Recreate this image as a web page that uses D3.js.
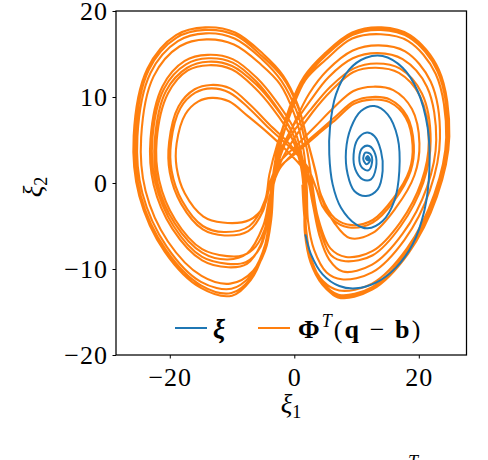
<!DOCTYPE html>
<html><head><meta charset="utf-8">
<script src="https://cdn.jsdelivr.net/npm/d3@7"></script>
<style>body{margin:0;background:#fff} svg{display:block}</style>
</head><body>
<svg id="c" width="488" height="460"></svg>
<script>
// ---- tick values / labels ----
const xTicks = [-20, 0, 20];
const xTickLabels = ["\u221220", "0", "20"];
const yTicks = [-20, -10, 0, 10, 20];
const yTickLabels = ["\u221220", "\u221210", "0", "10", "20"];

// ---- orange trajectory, in (xi1, xi2), piece by piece ----
// right-lobe loops (bottom -> right -> top -> upper left)
const rA1 = [[7.0,-13.3],[12.5,-12.4],[18.3,-8.2],[22.9,-1.6],[24.9,5.4],[23.2,13.2],[18.6,17.2],[14.0,18.1],[9.3,17.5],[4.8,15.0]];
const rA2 = [[7.0,-13.2],[12.4,-12.3],[18.2,-8.1],[22.8,-1.5],[24.8,5.4],[23.1,13.1],[18.5,17.1],[13.9,18.0],[9.2,17.4],[4.8,14.9]];
const rB = [[7.1,-13.0],[12.5,-12.1],[18.2,-7.9],[22.7,-1.5],[24.7,5.4],[23.0,13.0],[18.5,16.9],[13.9,17.8],[9.3,17.2],[4.9,14.7]];
const rC = [[7.2,-12.5],[12.5,-11.7],[18.1,-7.6],[22.5,-1.3],[24.4,5.3],[22.7,12.7],[18.3,16.5],[13.9,17.3],[9.3,16.8],[5.0,14.3]];
const rD = [[7.6,-11.2],[12.5,-10.4],[17.7,-6.6],[21.8,-0.8],[23.4,5.2],[21.9,11.8],[17.8,15.3],[13.6,16.0],[9.4,15.4],[5.3,13.1]];
const rE = [[7.8,-10.3],[12.5,-9.5],[17.4,-5.9],[21.3,-0.5],[22.8,5.0],[21.3,11.2],[17.4,14.4],[13.4,15.1],[9.4,14.5],[5.5,12.3]];
const rF = [[8.2,-9.1],[12.6,-8.4],[17.1,-5.0],[20.7,0.0],[21.9,4.9],[20.5,10.4],[17.0,13.3],[13.2,13.9],[9.5,13.3],[5.8,11.2]];
const rG = [[8.3,-8.6],[12.6,-7.9],[17.0,-4.6],[20.4,0.1],[21.6,4.8],[20.2,10.1],[16.8,12.8],[13.1,13.4],[9.5,12.9],[5.9,10.7]];
const rH = [[8.9,-6.4],[12.6,-5.8],[16.3,-2.9],[19.3,0.9],[20.1,4.6],[18.9,8.6],[15.9,10.8],[12.7,11.2],[9.5,10.7],[6.4,8.8]];
const rI = [[9.2,-5.2],[12.6,-4.6],[16.0,-2.1],[18.7,1.4],[19.2,4.4],[18.1,7.8],[15.4,9.7],[12.5,10.0],[9.6,9.5],[6.6,7.7]];
const rJ = [[9.3,-4.9],[12.6,-4.3],[15.9,-1.8],[18.5,1.5],[19.0,4.4],[17.9,7.6],[15.3,9.4],[12.4,9.7],[9.6,9.2],[6.7,7.4]];
// left-lobe loops (bottom -> left -> top -> upper right)
const lA1 = [[-10.0,-13.1],[-15.0,-12.2],[-20.8,-8.0],[-24.9,-1.5],[-25.8,5.5],[-23.6,13.3],[-19.0,17.2],[-14.3,18.1],[-9.5,17.5],[-5.0,15.0]];
const lB = [[-10.1,-12.8],[-15.0,-11.9],[-20.7,-7.7],[-24.7,-1.4],[-25.5,5.5],[-23.4,13.1],[-18.9,16.9],[-14.3,17.8],[-9.5,17.2],[-5.1,14.7]];
const lC = [[-10.1,-12.3],[-15.0,-11.5],[-20.5,-7.4],[-24.4,-1.2],[-25.2,5.4],[-23.1,12.8],[-18.7,16.5],[-14.2,17.4],[-9.6,16.8],[-5.2,14.4]];
const lD = [[-10.3,-11.7],[-14.9,-10.8],[-20.3,-6.8],[-23.9,-0.9],[-24.6,5.3],[-22.6,12.4],[-18.4,15.9],[-14.1,16.7],[-9.7,16.1],[-5.4,13.8]];
const lE = [[-10.6,-9.8],[-14.8,-9.0],[-19.6,-5.3],[-22.6,-0.2],[-23.1,5.1],[-21.2,11.2],[-17.6,14.2],[-13.9,14.9],[-9.9,14.4],[-6.0,12.2]];
const lF = [[-10.7,-9.4],[-14.8,-8.6],[-19.4,-5.0],[-22.3,0.0],[-22.8,5.1],[-20.9,11.0],[-17.4,13.8],[-13.8,14.5],[-9.9,14.0],[-6.1,11.8]];
const lG = [[-10.7,-8.9],[-14.8,-8.1],[-19.2,-4.7],[-22.0,0.1],[-22.4,5.1],[-20.6,10.7],[-17.2,13.4],[-13.8,14.1],[-10.0,13.6],[-6.2,11.5]];
const lH = [[-10.8,-8.5],[-14.8,-7.7],[-19.1,-4.3],[-21.7,0.3],[-22.1,5.0],[-20.3,10.4],[-17.1,13.1],[-13.7,13.7],[-10.0,13.2],[-6.4,11.1]];
const lI = [[-11.2,-6.1],[-14.7,-5.4],[-18.2,-2.4],[-20.0,1.2],[-20.1,4.8],[-18.6,8.9],[-16.0,10.9],[-13.4,11.4],[-10.3,11.0],[-7.1,9.1]];
const lJ = [[-11.3,-5.7],[-14.7,-5.0],[-18.0,-2.1],[-19.7,1.4],[-19.8,4.7],[-18.3,8.7],[-15.9,10.5],[-13.3,11.0],[-10.4,10.5],[-7.3,8.7]];
const lK = [[-11.5,-4.6],[-14.6,-3.9],[-17.6,-1.2],[-18.9,1.8],[-18.9,4.6],[-17.5,8.0],[-15.4,9.5],[-13.2,9.9],[-10.5,9.5],[-7.5,7.8]];
// crossings through the middle, from one lobe's top to the other lobe's bottom
const s0 = [[1.3,-0.2],[1.6,-3.8],[2.2,-7.6],[4.0,-11.0]];
const t1 = [[1.6,12.4],[-0.6,9.0],[-2.5,4.6],[-3.5,0.4],[-3.9,-3.8],[-4.9,-7.8],[-6.9,-11.0]];
const t2 = [[-1.9,12.3],[0.6,8.8],[2.3,4.4],[3.5,1.0],[4.4,-1.8],[6.4,-4.6]];
const t3 = [[3.4,6.6],[0.4,4.4],[-2.6,2.2],[-4.2,-0.6],[-5.0,-3.2],[-7.4,-5.6]];
const t4 = [[-4.0,6.8],[-0.6,4.4],[2.0,1.6],[3.0,-1.8],[4.2,-5.6],[5.9,-8.4]];
const t5 = [[2.7,8.6],[-0.3,5.8],[-2.6,3.0],[-3.6,-0.4],[-4.0,-4.2],[-5.0,-8.2],[-7.0,-11.3]];
const t6 = [[-1.8,12.5],[0.5,9.2],[2.1,5.0],[3.4,1.4],[4.3,-1.4],[6.5,-4.1]];
const t7 = [[3.7,5.6],[0.5,3.6],[-2.4,1.8],[-4.0,-0.6],[-4.8,-2.6],[-7.2,-4.3]];
const t8 = [[-4.2,5.8],[-1.0,3.6],[1.8,1.2],[2.9,-2.2],[4.0,-6.0],[5.6,-8.9]];
const t9 = [[2.6,9.6],[-0.2,6.6],[-2.4,3.4],[-3.6,-0.2],[-4.3,-3.8],[-5.4,-7.2],[-7.6,-9.4]];
const t10 = [[-3.0,9.6],[0.0,6.2],[1.4,2.4],[1.8,-1.6],[1.9,-5.4],[2.8,-9.0],[4.6,-11.6]];
const t11 = [[1.7,12.1],[-0.8,8.4],[-2.7,4.6],[-4.0,1.0],[-4.7,-2.0],[-7.2,-5.0]];
const t12 = [[-4.1,6.4],[-0.8,4.2],[2.0,2.0],[3.6,-0.8],[4.6,-2.8],[6.8,-4.6]];
const t13 = [[3.6,5.8],[0.4,3.8],[-2.4,1.6],[-3.9,-1.4],[-5.0,-5.0],[-7.6,-8.2]];
const t14 = [[-3.2,9.0],[-0.3,5.8],[1.2,2.2],[1.6,-1.8],[1.8,-5.6],[2.7,-9.0],[4.6,-11.4]];
const t15 = [[1.8,12.0],[-0.4,8.5],[-2.3,4.2],[-3.3,0.0],[-3.7,-4.2],[-4.7,-7.9],[-7.0,-10.8]];
const t16 = [[-2.1,11.9],[0.4,8.3],[2.0,4.0],[2.9,-0.2],[3.8,-4.0],[5.8,-7.6]];
const t17 = [[2.9,8.2],[0.0,5.2],[-2.2,2.4],[-3.6,-1.0],[-4.4,-4.6],[-6.2,-7.4],[-8.2,-8.4]];
const t18 = [[-3.4,8.6],[-0.5,5.4],[1.1,1.8],[1.6,-2.0],[1.7,-5.8],[2.6,-9.2],[4.5,-11.8]];
const t19 = [[1.5,12.3],[-0.7,8.9],[-2.5,4.6],[-3.4,0.4],[-3.8,-3.4],[-4.6,-7.0],[-6.6,-10.2]];
const t20 = [[-2.3,11.5],[0.0,8.0],[1.5,3.8],[2.0,-0.6],[2.2,-4.4],[3.2,-7.8],[5.2,-10.4]];
const t21 = [[2.4,10.4],[-0.1,6.8],[-2.2,3.2],[-3.5,-0.4],[-4.2,-4.0],[-5.4,-7.4],[-7.8,-9.2]];
const tEnd = [[-3.2,9.2],[-0.4,6.0],[1.2,2.4]];

// ---- blue spiral ----
const xiBlue = [[1.77,-5.97],[2.68,-8.29],[4.55,-10.62],[7.23,-11.98],[9.91,-12.25],[13.12,-11.59],[16.33,-9.84],[19.01,-7.13],[20.88,-3.26],[21.69,1.40],[21.42,6.43],[19.81,10.70],[17.40,13.41],[14.19,14.77],[11.51,14.57],[8.84,13.22],[6.69,10.31],[5.73,6.43],[5.62,3.33],[6.16,-0.16],[7.50,-2.87],[9.91,-4.81],[11.78,-5.27],[14.19,-4.42],[16.06,-2.09],[16.87,1.40],[16.60,5.27],[14.99,7.98],[12.85,8.95],[10.71,8.37],[9.10,6.43],[8.30,3.72],[8.57,1.01],[9.64,-0.93],[11.51,-1.51],[13.39,-0.74],[14.19,1.40],[13.92,3.72],[12.85,5.47],[11.51,5.85],[10.17,5.08],[9.53,3.33],[9.80,1.59],[10.98,0.43],[12.32,0.43],[13.12,1.78],[13.01,3.33],[12.05,4.30],[10.98,4.11],[10.44,2.95],[10.87,1.78],[11.89,1.47],[12.48,2.36],[12.27,3.33],[11.41,3.53],[11.09,2.75],[11.62,2.17],[12.16,2.64],[11.78,3.14],[11.51,2.83],[11.89,2.64],[12.0,2.95],[11.73,3.10],[11.67,2.87],[11.83,2.83],[11.78,2.95]];

const orangeTraj = [].concat(
  s0, rA1, t1, lB, t2, rH, t3, lI, t4, rF, t5, lA1, t6, rJ, t7, lK, t8,
  rE, t9, lE, t10, rB, t11, lJ, t12, rI, t13, lG, t14, rC, t15, lC, t16,
  rG, t17, lH, t18, rA2, t19, lD, t20, rD, t21, lF, tEnd);

const FONT = "'Liberation Serif', 'DejaVu Serif', serif";
const svg = d3.select("#c");
const x = d3.scaleLinear().domain([-28.64, 27.66]).range([116, 466.5]);
const y = d3.scaleLinear().domain([-20, 20]).range([355, 11]);
const line = d3.line().x(d => x(d[0])).y(d => y(d[1])).curve(d3.curveCatmullRom.alpha(0.5));

svg.append("path").attr("d", line(orangeTraj)).attr("fill", "none")
  .attr("stroke", "#ff7f0e").attr("stroke-width", 2.1).attr("stroke-linejoin", "round");
svg.append("path").attr("d", line(xiBlue)).attr("fill", "none")
  .attr("stroke", "#1f77b4").attr("stroke-width", 2).attr("stroke-linejoin", "round");

// axes
const gx = svg.append("g").attr("transform", "translate(0,355)")
  .call(d3.axisBottom(x).tickValues(xTicks).tickFormat((d, i) => xTickLabels[i]).tickSize(3.5).tickPadding(9));
const gy = svg.append("g").attr("transform", "translate(116,0)")
  .call(d3.axisLeft(y).tickValues(yTicks).tickFormat((d, i) => yTickLabels[i]).tickSize(3.5).tickPadding(4.5));
[gx, gy].forEach(g => {
  g.select(".domain").remove();
  g.selectAll("line").attr("stroke", "#000").attr("stroke-width", 1);
  g.selectAll("text").attr("font-family", FONT).attr("font-size", 26).attr("fill", "#000")
    .attr("letter-spacing", 1);
});
svg.append("rect").attr("x", 116).attr("y", 11).attr("width", 350.5).attr("height", 344)
  .attr("fill", "none").attr("stroke", "#000").attr("stroke-width", 1.25);

// axis labels
const xl = svg.append("text").attr("x", 291).attr("y", 413).attr("text-anchor", "middle")
  .attr("font-family", FONT).attr("font-size", 27);
xl.append("tspan").attr("font-style", "italic").text("ξ");
xl.append("tspan").attr("font-size", 18).attr("dy", 5).text("1");
const yl = svg.append("text").attr("transform", "translate(42,187) rotate(-90)").attr("text-anchor", "middle")
  .attr("font-family", FONT).attr("font-size", 27);
yl.append("tspan").attr("font-style", "italic").text("ξ");
yl.append("tspan").attr("font-size", 18).attr("dy", 5).text("2");

// legend
svg.append("line").attr("x1", 175).attr("x2", 207).attr("y1", 328).attr("y2", 328)
  .attr("stroke", "#1f77b4").attr("stroke-width", 2);
svg.append("text").attr("x", 213).attr("y", 338).attr("font-family", FONT).attr("font-size", 27)
  .attr("font-weight", "bold").attr("font-style", "italic").text("ξ");
svg.append("line").attr("x1", 258).attr("x2", 290).attr("y1", 328).attr("y2", 328)
  .attr("stroke", "#ff7f0e").attr("stroke-width", 2);
const lt = svg.append("text").attr("x", 298).attr("y", 338).attr("font-family", FONT).attr("font-size", 26)
  .attr("letter-spacing", 2.1);
lt.append("tspan").attr("font-weight", "bold").text("Φ");
lt.append("tspan").attr("font-style", "italic").attr("font-size", 18).attr("dy", -11).text("T");
lt.append("tspan").attr("dy", 11).text("(");
lt.append("tspan").attr("font-weight", "bold").text("q");
lt.append("tspan").text(" − ");
lt.append("tspan").attr("font-weight", "bold").text("b");
lt.append("tspan").text(")");

// caption fragment cut off at the bottom edge
const cap = svg.append("text").attr("x", 389).attr("y", 478).attr("font-family", FONT).attr("font-size", 26);
cap.append("tspan").text("Φ");
cap.append("tspan").attr("font-style", "italic").attr("font-size", 18).attr("dy", -10).text("T");
cap.append("tspan").attr("dy", 10).text("(q − b)");
</script>
</body></html>
